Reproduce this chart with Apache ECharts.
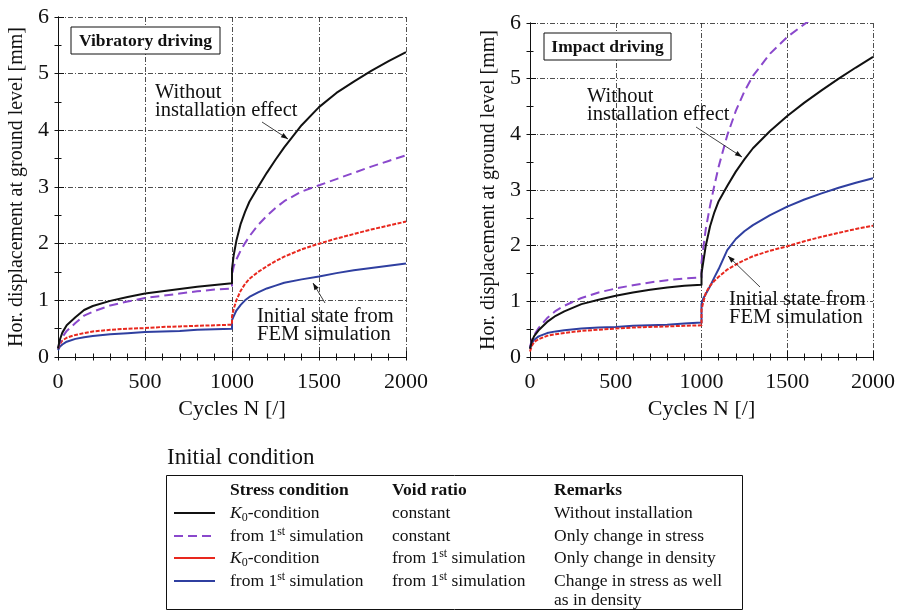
<!DOCTYPE html>
<html><head><meta charset="utf-8">
<script src="https://cdn.jsdelivr.net/npm/echarts@6/dist/echarts.min.js"></script>
<style>html,body{margin:0;padding:0;background:#fff}#c{width:907px;height:611px}</style>
</head><body><div id="c"></div>
<script>
// ---- data ----
var cycles = [0,10,25,50,100,150,200,300,400,500,600,700,800,900,1000,1000,1010,1025,1050,1075,1100,1150,1200,1250,1300,1400,1500,1600,1700,1800,1900,2000];
// Vibratory driving
var vibK0Const  = [0.15,0.30,0.43,0.56,0.70,0.83,0.90,0.99,1.06,1.12,1.16,1.20,1.24,1.27,1.30, 1.55,1.80,2.05,2.35,2.56,2.74,3.00,3.25,3.48,3.70,4.09,4.41,4.66,4.86,5.05,5.22,5.38];
var vibSimConst = [0.15,0.25,0.35,0.46,0.60,0.73,0.80,0.91,0.98,1.04,1.08,1.12,1.16,1.19,1.21, 1.45,1.60,1.72,1.88,2.01,2.13,2.33,2.49,2.63,2.75,2.92,3.03,3.14,3.25,3.36,3.46,3.56];
var vibK0Sim    = [0.15,0.22,0.29,0.34,0.39,0.42,0.45,0.48,0.50,0.51,0.53,0.54,0.55,0.56,0.57, 0.72,0.85,1.00,1.17,1.29,1.38,1.50,1.60,1.69,1.77,1.90,2.00,2.09,2.17,2.25,2.32,2.39];
var vibSimSim   = [0.12,0.18,0.22,0.27,0.32,0.35,0.37,0.40,0.42,0.44,0.45,0.46,0.48,0.49,0.50, 0.65,0.72,0.82,0.92,1.00,1.06,1.14,1.21,1.26,1.31,1.37,1.42,1.48,1.53,1.57,1.61,1.65];
// Impact driving
var impK0Const  = [0.15,0.28,0.38,0.48,0.63,0.74,0.82,0.95,1.03,1.10,1.16,1.21,1.25,1.28,1.30, 1.50,1.70,2.00,2.35,2.60,2.80,3.07,3.33,3.55,3.75,4.06,4.33,4.57,4.79,5.00,5.20,5.39];
var impSimConst = [0.18,0.30,0.40,0.52,0.70,0.83,0.92,1.06,1.16,1.23,1.29,1.34,1.38,1.41,1.43, 1.70,1.95,2.30,2.72,3.08,3.42,3.98,4.42,4.77,5.05,5.45,5.75,5.98,6.20,6.40,6.60,6.80];
var impK0Sim    = [0.10,0.20,0.27,0.32,0.38,0.41,0.43,0.47,0.49,0.51,0.53,0.54,0.55,0.56,0.57, 0.85,0.98,1.15,1.28,1.37,1.44,1.57,1.66,1.74,1.81,1.91,1.99,2.08,2.16,2.23,2.30,2.36];
var impSimSim   = [0.15,0.25,0.31,0.37,0.43,0.46,0.48,0.51,0.53,0.54,0.56,0.57,0.58,0.60,0.62, 0.95,1.05,1.13,1.27,1.43,1.58,1.92,2.12,2.26,2.37,2.55,2.70,2.83,2.94,3.04,3.13,3.21];
var xTicks = [0,500,1000,1500,2000];
var yTicks = [0,1,2,3,4,5,6];
var panelTitles = ['Vibratory driving','Impact driving'];
var legendHeader = ['Stress condition','Void ratio','Remarks'];

// ---- styles ----
var SERIF = '"Liberation Serif","DejaVu Serif",serif';
var colors = ['#111111','#8a48cc','#e8281e','#2f3fa0'];
var lineTypes = ['solid',[9,5],[4,1.5],'solid'];

var chart = echarts.init(document.getElementById('c'), null, {renderer:'canvas'});

var grids = [
  {left:58, top:17, width:348, height:340},
  {left:530, top:23, width:343, height:334}
];
var gridLine = {show:true, lineStyle:{color:'#222', width:0.8, type:[5,2,1,2]}};

function xMain(i){
  return {type:'value', gridIndex:i, position:'bottom', min:0, max:2000, interval:500,
    axisLine:{show:true, lineStyle:{color:'#111', width:1}},
    axisTick:{show:true, inside:true, length:6, lineStyle:{color:'#111'}},
    splitLine: gridLine,
    axisLabel:{show:true, fontFamily:SERIF, fontSize:22, color:'#111', margin:14,
      formatter:function(v){return xTicks.indexOf(v)>=0? String(v):'';}},
    name:'Cycles N [/]', nameLocation:'middle', nameGap:40,
    nameTextStyle:{fontFamily:SERIF, fontSize:22, color:'#111'}
  };
}
function xMinor(i,pos){
  return {type:'value', gridIndex:i, position:pos, min:0, max:2000, interval:100,
    axisLine:{show:pos==='top', lineStyle:{color:'#111', width:1}},
    axisTick:{show:true, inside:true, length:3.5, lineStyle:{color:'#111'}},
    splitLine:{show:false}, axisLabel:{show:false}};
}
function yMain(i){
  return {type:'value', gridIndex:i, position:'left', min:0, max:6, interval:1,
    axisLine:{show:true, lineStyle:{color:'#111', width:1}},
    axisTick:{show:true, inside:true, length:6, lineStyle:{color:'#111'}},
    splitLine: gridLine,
    axisLabel:{show:true, fontFamily:SERIF, fontSize:22, color:'#111', margin:9,
      formatter:function(v){return yTicks.indexOf(v)>=0? String(v):'';}},
    name:'Hor. displacement at ground level [mm]', nameLocation:'middle', nameGap:31,
    nameTextStyle:{fontFamily:SERIF, fontSize:20, color:'#111'}
  };
}
function yMinor(i,pos){
  return {type:'value', gridIndex:i, position:pos, min:0, max:6, interval:0.5,
    axisLine:{show:pos==='right', lineStyle:{color:'#111', width:1}},
    axisTick:{show:true, inside:true, length:3.5, lineStyle:{color:'#111'}},
    splitLine:{show:false}, axisLabel:{show:false}};
}

function mk(arr, gi, ci){
  return {type:'line', xAxisIndex:gi*3, yAxisIndex:gi*3, showSymbol:false, symbol:'none',
    clip:true, animation:false, smooth:false,
    data: cycles.map(function(n,k){return [n, arr[k]];}),
    lineStyle:{color:colors[ci], width:2, type:lineTypes[ci], join:'round'}, z:10-ci};
}

var series = [
  mk(vibSimSim,0,3), mk(vibK0Sim,0,2), mk(vibSimConst,0,1), mk(vibK0Const,0,0),
  mk(impK0Sim,1,2), mk(impSimSim,1,3), mk(impSimConst,1,1), mk(impK0Const,1,0)
];

// ---- graphics (annotations + table legend) ----
var g = [];
function txt(x,y,text,opt){
  opt = opt||{};
  g.push({type:'text', x:x, y:y, z:50, style:Object.assign({text:text, fontFamily:SERIF, fontSize:17.5, fill:'#111',
    textVerticalAlign:'middle'}, opt)});
}
function arrow(x1,y1,x2,y2){
  g.push({type:'line', z:50, shape:{x1:x1,y1:y1,x2:x2,y2:y2}, style:{stroke:'#111', lineWidth:0.8}});
  var a = Math.atan2(y2-y1, x2-x1), L=7, W=2.5;
  var bx = x2 - L*Math.cos(a), by = y2 - L*Math.sin(a);
  g.push({type:'polygon', z:50, shape:{points:[[x2,y2],[bx - W*Math.sin(a), by + W*Math.cos(a)],[bx + W*Math.sin(a), by - W*Math.cos(a)]]}, style:{fill:'#111'}});
}
// titles in boxes
g.push({type:'rect', z:40, shape:{x:71,y:27,width:149,height:27}, style:{fill:'#fff', stroke:'#111', lineWidth:1}});
txt(145.5,41,panelTitles[0],{fontWeight:'bold', textAlign:'center', fontSize:17.5});
g.push({type:'rect', z:40, shape:{x:544,y:33,width:127,height:27}, style:{fill:'#fff', stroke:'#111', lineWidth:1}});
txt(607.5,47,panelTitles[1],{fontWeight:'bold', textAlign:'center', fontSize:17.5});

// annotations
var AF = 20.5;
txt(155,93,'Without',{fontSize:AF});
txt(155,111,'installation effect',{fontSize:AF});
arrow(262,122,288,139);
txt(257,317,'Initial state from',{fontSize:AF});
txt(257,335,'FEM simulation',{fontSize:AF});
arrow(325,303,313,283);
txt(587,97,'Without',{fontSize:AF});
txt(587,115,'installation effect',{fontSize:AF});
arrow(696,127,742,157);
txt(729,300,'Initial state from',{fontSize:AF});
txt(729,318,'FEM simulation',{fontSize:AF});
arrow(760,287,728,256);

// legend table
txt(167,458,'Initial condition',{fontSize:23});
g.push({type:'rect', z:40, shape:{x:166.5,y:475.5,width:576,height:134}, style:{fill:'none', stroke:'#111', lineWidth:1}});
var cx = [230,392,554];
legendHeader.forEach(function(h,i){ txt(cx[i],490,h,{fontWeight:'bold'}); });
var rich = {
  it:{fontFamily:SERIF, fontSize:17.5, fontStyle:'italic', fill:'#111'},
  sub:{fontFamily:SERIF, fontSize:12, fill:'#111', padding:[9,0,0,0]},
  sup:{fontFamily:SERIF, fontSize:12, fill:'#111', padding:[0,0,8,0]},
  n:{fontFamily:SERIF, fontSize:17.5, fill:'#111'}
};
function rtxt(x,y,t){ g.push({type:'text', x:x, y:y, z:50, style:{text:t, rich:rich, textVerticalAlign:'middle', fontFamily:SERIF, fontSize:17.5, fill:'#111'}}); }
var K0 = '{it|K}{sub|0}{n|-condition}';
var S1 = '{n|from 1}{sup|st}{n| simulation}';
var rowsY = [513,536,558,581];
var col1 = [K0,S1,K0,S1];
var col2 = ['{n|constant}','{n|constant}',S1,S1];
var col3 = ['Without installation','Only change in stress','Only change in density','Change in stress as well'];
rowsY.forEach(function(y,i){
  g.push({type:'line', z:50, shape:{x1:174,y1:y,x2:215,y2:y}, style:{stroke:colors[i], lineWidth:2, lineDash: i===1?[9,5]:null}});
  rtxt(230,y,col1[i]); rtxt(392,y,col2[i]); txt(554,y,col3[i]);
});
txt(554,600,'as in density');

chart.setOption({
  animation:false,
  backgroundColor:'#fff',
  grid:grids,
  xAxis:[xMain(0),xMinor(0,'bottom'),xMinor(0,'top'),xMain(1),xMinor(1,'bottom'),xMinor(1,'top')],
  yAxis:[yMain(0),yMinor(0,'left'),yMinor(0,'right'),yMain(1),yMinor(1,'left'),yMinor(1,'right')],
  series:series,
  graphic:g
});
</script></body></html>
